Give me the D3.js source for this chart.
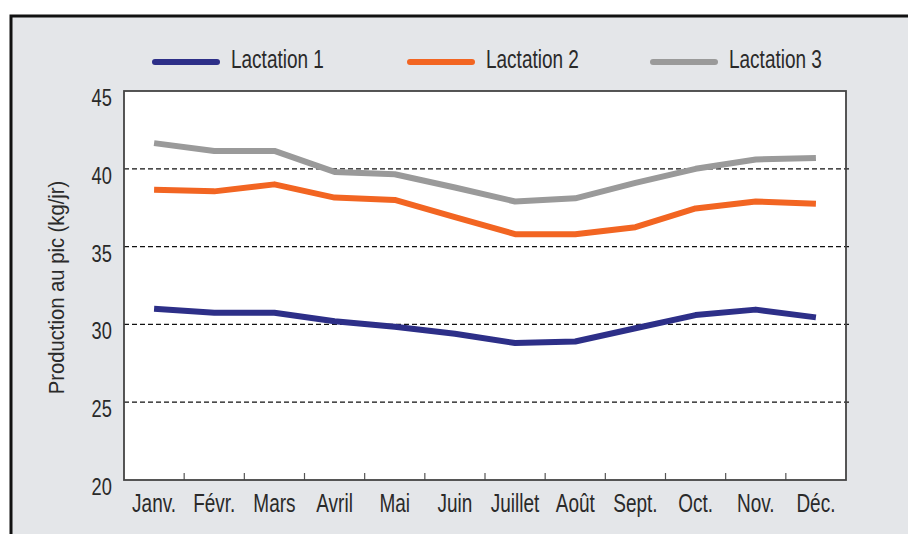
<!DOCTYPE html>
<html>
<head>
<meta charset="utf-8">
<script src="https://cdn.jsdelivr.net/npm/d3@7"></script>
<style>
  body { margin: 0; background: #fff; }
  svg { display: block; }
  text { font-family: "Liberation Sans", Arial, sans-serif; fill: #2a2a2a; }
</style>
</head>
<body>
<svg id="chart"></svg>
<script>
// Data
const months = ["Janv.", "Févr.", "Mars", "Avril", "Mai", "Juin", "Juillet", "Août", "Sept.", "Oct.", "Nov.", "Déc."];
const lactation1 = [31.0, 30.75, 30.75, 30.2, 29.85, 29.4, 28.8, 28.9, 29.75, 30.6, 30.95, 30.45];
const lactation2 = [38.65, 38.55, 39.0, 38.15, 38.0, 36.9, 35.8, 35.8, 36.25, 37.45, 37.9, 37.75];
const lactation3 = [41.65, 41.15, 41.15, 39.8, 39.65, 38.8, 37.9, 38.1, 39.1, 40.0, 40.6, 40.7];
const seriesNames = ["Lactation 1", "Lactation 2", "Lactation 3"];
const yTicks = [20, 25, 30, 35, 40, 45];
const gridValues = [25, 30, 35, 40];

const width = 908, height = 534;
const plot = { left: 124, right: 846, top: 91, bottom: 480 };
const narrow = "scale(0.76,1)"; // the original uses a condensed face

const svg = d3.select("#chart").attr("width", width).attr("height", height);

// Outer grey frame
svg.append("rect")
  .attr("x", 11).attr("y", 16)
  .attr("width", width + 10).attr("height", height + 10)
  .attr("fill", "#e4e6e9")
  .attr("stroke", "#111")
  .attr("stroke-width", 3);

// Scales
const x = d3.scaleBand().domain(months).range([plot.left, plot.right]).padding(0);
const y = d3.scaleLinear().domain([20, 45]).range([plot.bottom, plot.top]);

const color = d3.scaleOrdinal()
  .domain(seriesNames)
  .range(["#2d2f88", "#f26522", "#9a9a9a"]);

// Plot background
svg.append("rect")
  .attr("x", plot.left).attr("y", plot.top)
  .attr("width", plot.right - plot.left).attr("height", plot.bottom - plot.top)
  .attr("fill", "#fff");

// Dashed gridlines
svg.append("g")
  .selectAll("line")
  .data(gridValues)
  .join("line")
  .attr("x1", plot.left).attr("x2", plot.right + 3)
  .attr("y1", d => y(d)).attr("y2", d => y(d))
  .attr("stroke", "#111")
  .attr("stroke-width", 1.3)
  .attr("stroke-dasharray", "5,3");

// Y axis labels
const yAxis = svg.append("g")
  .attr("transform", `translate(${plot.left},0)`)
  .call(d3.axisLeft(y).tickValues(yTicks).tickSize(0));
yAxis.select(".domain").remove();
yAxis.selectAll("text")
  .attr("x", -16)
  .attr("dy", "0.6em")
  .attr("transform", narrow)
  .style("font-size", "24px")
  .style("fill", "#2a2a2a");

// X axis labels
const xAxis = svg.append("g")
  .attr("transform", `translate(0,${plot.bottom})`)
  .call(d3.axisBottom(x).tickSize(0).tickPadding(14));
xAxis.select(".domain").remove();
xAxis.selectAll("text")
  .attr("dy", "0.71em")
  .attr("transform", narrow)
  .style("font-size", "25px")
  .style("fill", "#2a2a2a");

// Ticks between months
svg.append("g")
  .selectAll("line")
  .data(months.slice(1))
  .join("line")
  .attr("x1", d => x(d)).attr("x2", d => x(d))
  .attr("y1", plot.bottom).attr("y2", plot.bottom - 7)
  .attr("stroke", "#555")
  .attr("stroke-width", 1.2);

// Plot frame
svg.append("rect")
  .attr("x", plot.left).attr("y", plot.top)
  .attr("width", plot.right - plot.left).attr("height", plot.bottom - plot.top)
  .attr("fill", "none")
  .attr("stroke", "#444")
  .attr("stroke-width", 1.8);

// Lines
const series = [lactation1, lactation2, lactation3].map((vals, i) => ({
  name: seriesNames[i],
  values: vals.map((v, j) => ({ month: months[j], value: v }))
}));

const line = d3.line()
  .x(d => x(d.month) + x.bandwidth() / 2)
  .y(d => y(d.value));

svg.append("g")
  .selectAll("path")
  .data(series)
  .join("path")
  .attr("d", d => line(d.values))
  .attr("fill", "none")
  .attr("stroke", d => color(d.name))
  .attr("stroke-width", 6)
  .attr("stroke-linejoin", "round")
  .attr("stroke-linecap", "butt");

// Legend
const legendX = [155, 410, 653];
const legend = svg.append("g")
  .selectAll("g")
  .data(seriesNames)
  .join("g")
  .attr("transform", (d, i) => `translate(${legendX[i]},62)`);

legend.append("line")
  .attr("x1", 0).attr("x2", 62)
  .attr("y1", 0).attr("y2", 0)
  .attr("stroke", d => color(d))
  .attr("stroke-width", 6)
  .attr("stroke-linecap", "round");

legend.append("text")
  .attr("transform", `translate(76,6) ${narrow}`)
  .style("font-size", "25px")
  .text(d => d);

// Y axis title
svg.append("text")
  .attr("transform", `translate(64,${(plot.top + plot.bottom) / 2 + 2}) rotate(-90) scale(0.92,1)`)
  .attr("text-anchor", "middle")
  .style("font-size", "22px")
  .text("Production au pic (kg/jr)");
</script>
</body>
</html>
